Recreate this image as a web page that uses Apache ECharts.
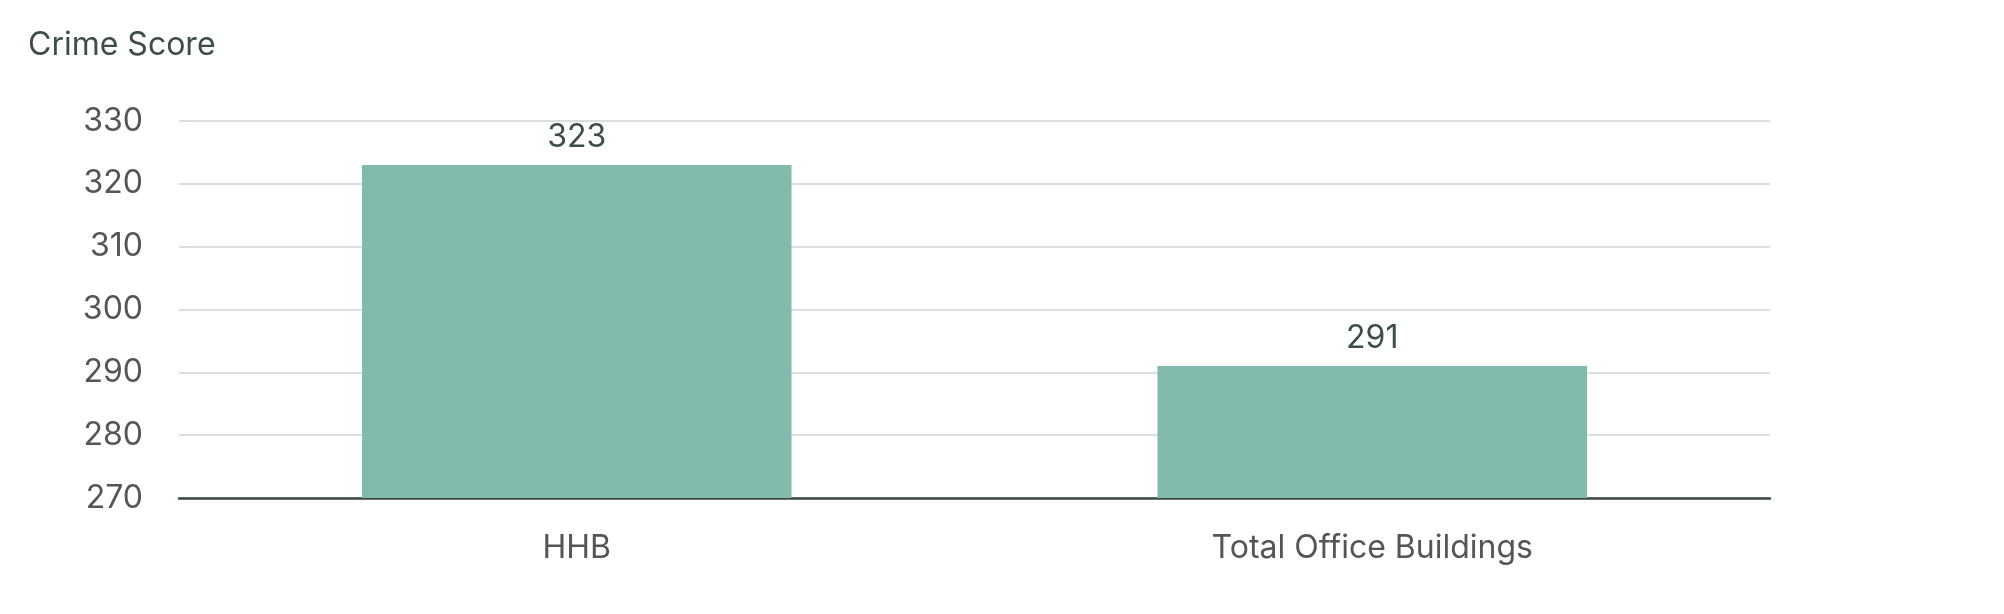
<!DOCTYPE html>
<html>
<head>
<meta charset="utf-8">
<script src="https://cdn.jsdelivr.net/npm/echarts@6/dist/echarts.min.js"></script>
<style>
html,body{margin:0;padding:0;background:#fff;}
#chart{width:2004px;height:614px;}
</style>
</head>
<body>
<div id="chart"></div>
<script>
const categories = ["HHB", "Total Office Buildings"];
const crimeScores = [323, 291];
const yTicks = [270, 280, 290, 300, 310, 320, 330];
const titleText = "Crime Score";

const chart = echarts.init(document.getElementById('chart'), null, {renderer: 'canvas'});
const font = 'Inter, "Noto Sans", sans-serif';
chart.setOption({
  animation: false,
  backgroundColor: '#ffffff',
  title: {
    text: titleText,
    left: 23,
    top: 24,
    textStyle: {fontFamily: font, fontSize: 32, fontWeight: 'normal', color: '#3d4d4d'}
  },
  grid: {left: 179, right: 234, top: 121, bottom: 116, containLabel: false},
  xAxis: {
    type: 'category',
    data: categories,
    axisLine: {show: true, lineStyle: {color: '#3b4848', width: 2.5}},
    axisTick: {show: false},
    axisLabel: {fontFamily: font, fontSize: 32, color: '#555555', margin: 34}
  },
  yAxis: {
    type: 'value',
    min: yTicks[0],
    max: yTicks[yTicks.length - 1],
    interval: yTicks[1] - yTicks[0],
    axisLine: {show: false},
    axisTick: {show: false},
    axisLabel: {fontFamily: font, fontSize: 32, color: '#555555', margin: 36},
    splitLine: {lineStyle: {color: '#cfd5d5', width: 1.5}}
  },
  series: [{
    type: 'bar',
    data: crimeScores,
    barWidth: '54%',
    itemStyle: {color: '#82baad'},
    label: {
      show: true,
      position: 'top',
      distance: 12,
      fontFamily: font,
      fontSize: 32,
      color: '#3d4d4d'
    }
  }]
});
</script>
</body>
</html>
